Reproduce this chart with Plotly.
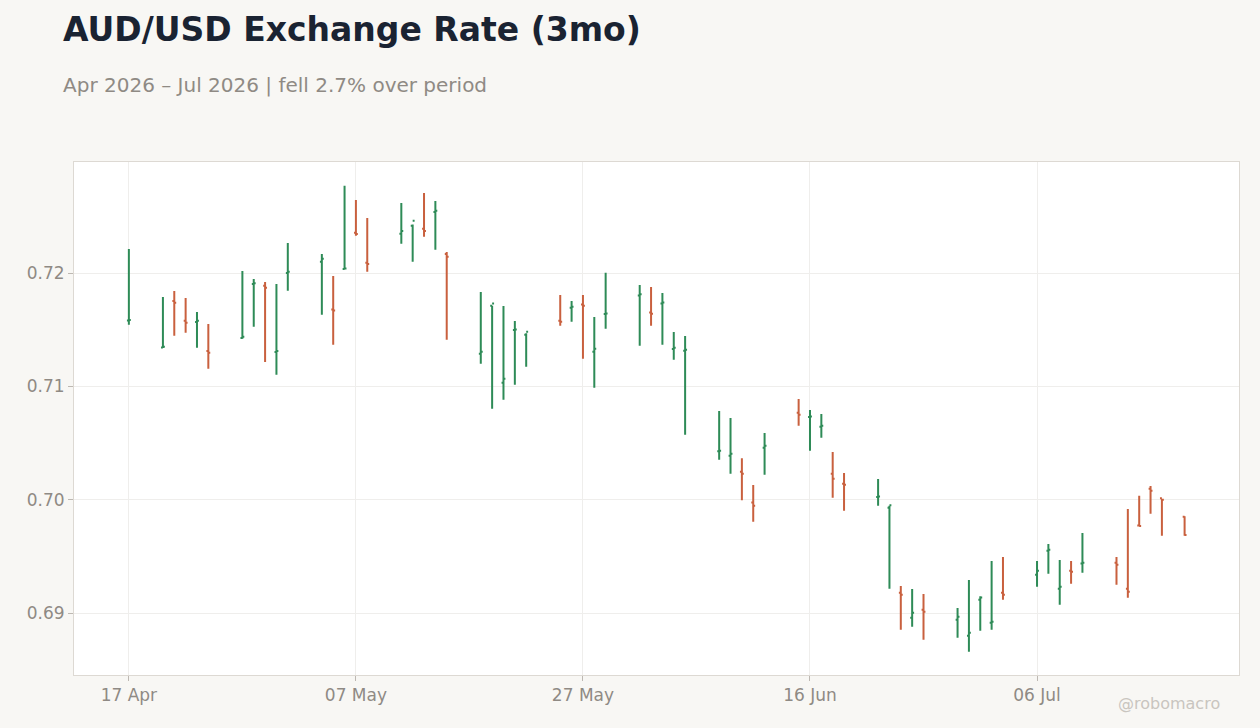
import plotly.graph_objects as go

dates = [
    "2026-04-17",
    "2026-04-20", "2026-04-21", "2026-04-22", "2026-04-23", "2026-04-24",
    "2026-04-27", "2026-04-28", "2026-04-29", "2026-04-30", "2026-05-01",
    "2026-05-04", "2026-05-05", "2026-05-06", "2026-05-07", "2026-05-08",
    "2026-05-11", "2026-05-12", "2026-05-13", "2026-05-14", "2026-05-15",
    "2026-05-18", "2026-05-19", "2026-05-20", "2026-05-21", "2026-05-22",
    "2026-05-25", "2026-05-26", "2026-05-27", "2026-05-28", "2026-05-29",
    "2026-06-01", "2026-06-02", "2026-06-03", "2026-06-04", "2026-06-05",
    "2026-06-08", "2026-06-09", "2026-06-10", "2026-06-11", "2026-06-12",
    "2026-06-15", "2026-06-16", "2026-06-17", "2026-06-18", "2026-06-19",
    "2026-06-22", "2026-06-23", "2026-06-24", "2026-06-25", "2026-06-26",
    "2026-06-29", "2026-06-30", "2026-07-01", "2026-07-02", "2026-07-03",
    "2026-07-06", "2026-07-07", "2026-07-08", "2026-07-09", "2026-07-10",
    "2026-07-13", "2026-07-14", "2026-07-15", "2026-07-16", "2026-07-17",
    "2026-07-19",
]

open_ = [
    0.71582,
    0.71342, 0.71753, 0.71580, 0.71568, 0.71312,
    0.71426, 0.71903, 0.71888, 0.71303, 0.72000,
    0.72100, 0.71678, 0.72035, 0.72356, 0.72091,
    0.72347, 0.72417, 0.72391, 0.72538, 0.72168,
    0.71288, 0.71712, 0.71032, 0.71497, 0.71456,
    0.71580, 0.71694, 0.71723, 0.71306, 0.71638,
    0.71803, 0.71653, 0.71732, 0.71329, 0.71315,
    0.70428, 0.70388, 0.70247, 0.69976, 0.70459,
    0.70768, 0.70729, 0.70644, 0.70229, 0.70141,
    0.70024, 0.69929, 0.69179, 0.68959, 0.69029,
    0.68941, 0.68800, 0.69118, 0.68914, 0.69179,
    0.69338, 0.69550, 0.69215, 0.69373, 0.69438,
    0.69444, 0.69215, 0.69773, 0.70097, 0.70012,
    0.69850,
]

high = [
    0.72212,
    0.71788, 0.71841, 0.71779, 0.71656, 0.71550,
    0.72018, 0.71947, 0.71921, 0.71903, 0.72265,
    0.72168, 0.71974, 0.72770, 0.72644, 0.72485,
    0.72618, 0.72429, 0.72706, 0.72635, 0.72185,
    0.71832, 0.71712, 0.71709, 0.71576, 0.71468,
    0.71806, 0.71753, 0.71806, 0.71612, 0.72003,
    0.71894, 0.71876, 0.71824, 0.71479, 0.71444,
    0.70782, 0.70721, 0.70365, 0.70129, 0.70588,
    0.70888, 0.70791, 0.70756, 0.70420, 0.70235,
    0.70182, 0.69947, 0.69238, 0.69212, 0.69168,
    0.69044, 0.69291, 0.69147, 0.69459, 0.69494,
    0.69459, 0.69609, 0.69468, 0.69459, 0.69706,
    0.69494, 0.69918, 0.70035, 0.70121, 0.70009,
    0.69853,
]

low = [
    0.71544,
    0.71338, 0.71447, 0.71473, 0.71341, 0.71156,
    0.71420, 0.71526, 0.71215, 0.71103, 0.71844,
    0.71632, 0.71367, 0.72032, 0.72329, 0.72012,
    0.72259, 0.72100, 0.72321, 0.72206, 0.71412,
    0.71200, 0.70803, 0.70882, 0.71014, 0.71173,
    0.71535, 0.71571, 0.71244, 0.70988, 0.71509,
    0.71359, 0.71535, 0.71367, 0.71235, 0.70573,
    0.70353, 0.70229, 0.69994, 0.69806, 0.70220,
    0.70653, 0.70432, 0.70547, 0.70018, 0.69903,
    0.69947, 0.69215, 0.68853, 0.68879, 0.68765,
    0.68782, 0.68659, 0.68844, 0.68853, 0.69118,
    0.69232, 0.69347, 0.69074, 0.69259, 0.69356,
    0.69250, 0.69135, 0.69765, 0.69876, 0.69682,
    0.69682,
]

close = [
    0.71585,
    0.71350, 0.71738, 0.71562, 0.71580, 0.71297,
    0.71438, 0.71909, 0.71870, 0.71312, 0.72012,
    0.72126, 0.71670, 0.72040, 0.72344, 0.72079,
    0.72371, 0.72462, 0.72371, 0.72550, 0.72144,
    0.71306, 0.71732, 0.71068, 0.71502, 0.71482,
    0.71571, 0.71703, 0.71712, 0.71332, 0.71644,
    0.71812, 0.71641, 0.71741, 0.71341, 0.71323,
    0.70433, 0.70406, 0.70229, 0.69947, 0.70476,
    0.70750, 0.70735, 0.70653, 0.70185, 0.70132,
    0.70029, 0.69950, 0.69162, 0.69003, 0.69012,
    0.68968, 0.68826, 0.69138, 0.68923, 0.69162,
    0.69373, 0.69559, 0.69232, 0.69365, 0.69444,
    0.69426, 0.69188, 0.69768, 0.70079, 0.70000,
    0.69688,
]

title_text = "AUD/USD Exchange Rate (3mo)"
subtitle_text = "Apr 2026 – Jul 2026 | fell 2.7% over period"
watermark_text = "@robomacro"

UP = "#2e8b57"
DOWN = "#c9603e"
PAPER = "#f8f7f4"
FONT = "DejaVu Sans, Verdana, sans-serif"

fig = go.Figure(go.Ohlc(
    x=dates, open=open_, high=high, low=low, close=close,
    increasing=dict(line=dict(color=UP, width=2)),
    decreasing=dict(line=dict(color=DOWN, width=2)),
    tickwidth=0.17,
    showlegend=False,
))

fig.update_layout(
    width=1260, height=728,
    paper_bgcolor=PAPER,
    plot_bgcolor="#ffffff",
    margin=dict(l=74, r=21, t=162, b=53),
    font=dict(family=FONT, color="#8f8a84", size=17),
    showlegend=False,
    xaxis=dict(
        type="date",
        range=["2026-04-12 04:00", "2026-07-23 19:00"],
        rangeslider=dict(visible=False),
        tick0="2026-04-17",
        dtick=20 * 86400000,
        tickformat="%d %b",
        ticks="outside", ticklen=5, tickcolor="#bdb8b2",
        showgrid=True, gridcolor="#efeeec", gridwidth=1,
        showline=True, linecolor="#ddd9d3", linewidth=1, mirror=True,
        zeroline=False,
        tickfont=dict(size=17, color="#8f8a84"),
    ),
    yaxis=dict(
        range=[0.68453, 0.72980],
        dtick=0.01,
        tickformat=".2f",
        ticks="outside", ticklen=5, tickcolor="#bdb8b2",
        showgrid=True, gridcolor="#efeeec", gridwidth=1,
        showline=True, linecolor="#ddd9d3", linewidth=1, mirror=True,
        zeroline=False,
        tickfont=dict(size=17, color="#8f8a84"),
    ),
    annotations=[
        dict(text="<b>" + title_text + "</b>", xref="paper", yref="paper",
             x=-0.0112, y=1.259, xanchor="left", yanchor="middle",
             showarrow=False, font=dict(family=FONT, size=33, color="#1a2332")),
        dict(text=subtitle_text, xref="paper", yref="paper",
             x=-0.0112, y=1.150, xanchor="left", yanchor="middle",
             showarrow=False, font=dict(family=FONT, size=20, color="#8f8a84")),
        dict(text=watermark_text, xref="paper", yref="paper",
             x=0.9854, y=-0.0565, xanchor="right", yanchor="middle",
             showarrow=False, font=dict(family=FONT, size=16, color="#c9c5bf")),
    ],
)

fig.write_html(
    "out.html",
    config={"displayModeBar": False},
    post_script="document.body.style.margin='0';"
                "document.body.style.background='" + PAPER + "';"
                "document.documentElement.style.background='" + PAPER + "';",
)
